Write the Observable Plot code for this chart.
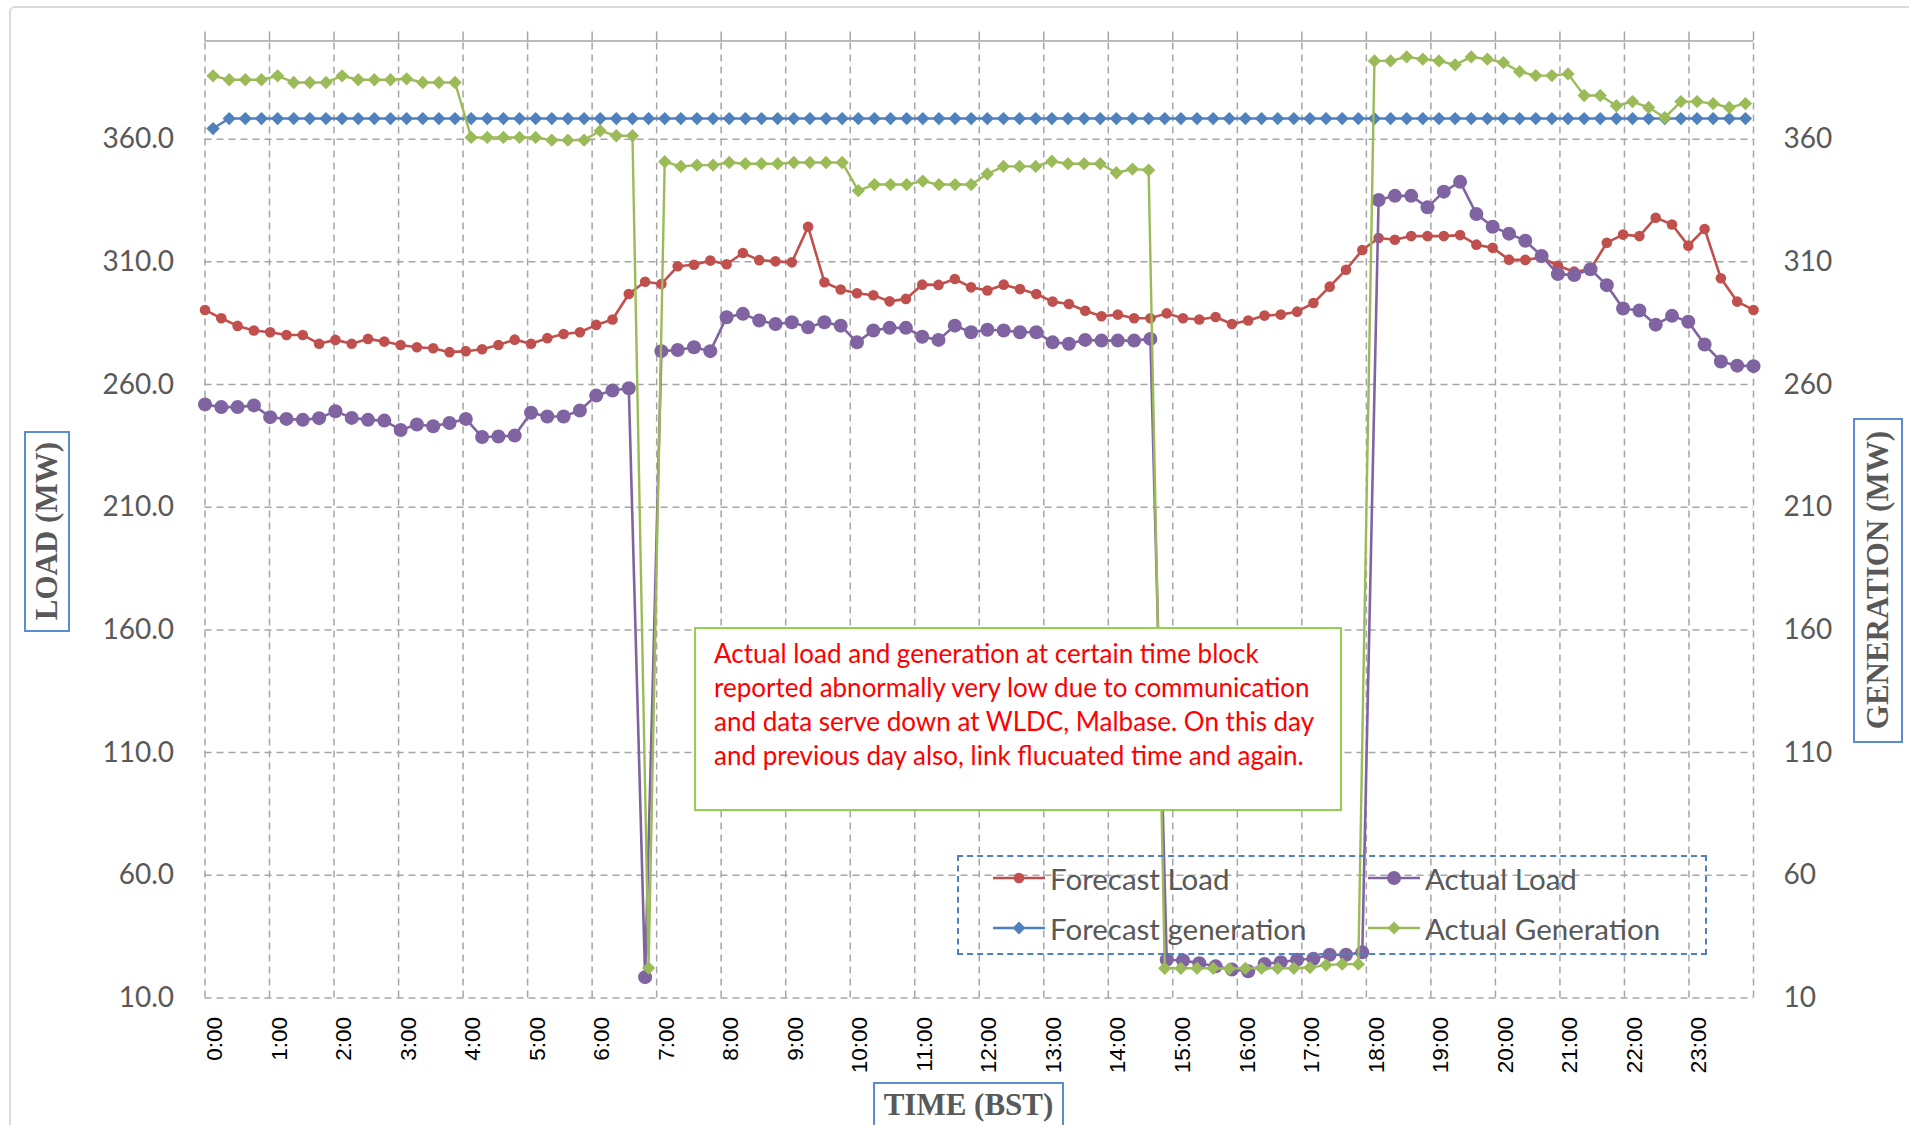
<!DOCTYPE html>
<html>
<head>
<meta charset="utf-8">
<script src="https://cdn.jsdelivr.net/npm/d3@7"></script>
<script src="https://cdn.jsdelivr.net/npm/@observablehq/plot@0.6"></script>
<style>
  html, body { margin: 0; padding: 0; background: #fff; overflow: hidden; }
  #wrap { position: relative; width: 1909px; height: 1125px; overflow: hidden; background: #fff; }
  #chart { position: absolute; left: 0; top: 0; }
  .frame { position: absolute; left: 9px; top: 6px; width: 1950px; height: 1170px; border: 2px solid #d9d9d9; border-radius: 6px; box-sizing: border-box; }
  .axbox { position: absolute; border: 2px solid #5b8bd0; box-sizing: border-box; display: flex; align-items: center; justify-content: center; background: #fff;
           font-family: "Liberation Serif", "Times New Roman", serif; font-weight: bold; font-size: 31px; color: #595959; white-space: nowrap; }
  .vert { writing-mode: vertical-rl; transform: rotate(180deg); }
  .note { position: absolute; left: 694px; top: 627px; width: 648px; height: 184px; box-sizing: border-box; border: 2px solid #92d050; background: #fff;
          padding: 7px 0 0 18px; font-family: Lato, "Open Sans", sans-serif; font-size: 26px; line-height: 34px; color: #ff0000; white-space: nowrap; }
  .legend { position: absolute; left: 957px; top: 855px; width: 750px; height: 100px; box-sizing: border-box; border: 2px dashed #4f81bd; }
  .litem { position: absolute; height: 40px; display: flex; align-items: center; font-family: Lato, "Open Sans", sans-serif; font-size: 29.5px; color: #595959; white-space: nowrap; }
  .litem svg { margin-right: 5px; }
</style>
</head>
<body>
<div id="wrap">
  <div class="frame"></div>
  <div id="chart"></div>
</div>
<script>
// ---- data (15-minute blocks, 96 per series) ----
const hourLabels = ["0:00","1:00","2:00","3:00","4:00","5:00","6:00","7:00","8:00","9:00","10:00","11:00",
                    "12:00","13:00","14:00","15:00","16:00","17:00","18:00","19:00","20:00","21:00","22:00","23:00"];
const yTicks = [10, 60, 110, 160, 210, 260, 310, 360];

const forecastLoad = [
  290.4, 287.0, 283.9, 282.0, 281.3, 280.2, 280.2, 276.6, 278.2, 276.6, 278.6, 277.5,
  276.1, 275.2, 274.8, 273.2, 273.6, 274.4, 276.1, 278.3, 276.6, 278.9, 280.6, 281.3,
  284.3, 286.5, 296.9, 301.9, 301.0, 308.2, 308.8, 310.5, 309.0, 313.6, 310.7, 310.2,
  309.8, 324.3, 301.7, 298.7, 297.2, 296.4, 293.9, 294.9, 300.7, 300.6, 303.0, 299.6,
  298.3, 300.7, 298.9, 296.9, 293.8, 292.8, 290.1, 287.8, 288.5, 287.0, 287.0, 289.0,
  287.0, 286.5, 287.5, 284.7, 286.1, 288.1, 288.5, 289.7, 293.2, 299.9, 306.8, 314.8,
  319.7, 319.0, 320.5, 320.5, 320.5, 320.9, 317.0, 315.7, 310.9, 310.8, 311.8, 308.4,
  306.0, 307.0, 317.8, 321.1, 320.5, 328.0, 325.2, 316.6, 323.4, 303.3, 293.8, 290.4
];
const actualLoad = [
  251.9, 250.8, 250.8, 251.5, 246.7, 246.0, 245.6, 246.3, 249.1, 246.4, 245.6, 245.3,
  241.5, 243.7, 243.0, 244.3, 246.0, 238.6, 238.8, 239.2, 248.5, 247.0, 247.0, 249.4,
  255.5, 257.6, 258.5, 18.5, 273.6, 274.1, 275.2, 273.6, 287.4, 288.8, 286.1, 284.7,
  285.4, 283.3, 285.4, 284.0, 277.2, 282.0, 283.1, 283.1, 279.5, 278.2, 284.0, 281.3,
  282.3, 282.0, 281.3, 281.3, 277.2, 276.6, 278.2, 277.9, 277.9, 277.9, 278.6, 25.6,
  25.3, 24.2, 22.9, 21.6, 20.9, 23.9, 24.6, 25.6, 26.0, 27.6, 27.6, 28.6,
  335.2, 336.9, 336.9, 332.2, 338.6, 342.6, 329.5, 324.3, 321.5, 318.6, 312.4, 305.0,
  304.6, 307.0, 300.5, 291.0, 290.2, 284.4, 288.0, 285.6, 276.3, 269.4, 267.7, 267.5
];
const forecastGen = [
  364.3, 368.4, 368.4, 368.4, 368.4, 368.4, 368.4, 368.4, 368.4, 368.4, 368.4, 368.4,
  368.4, 368.4, 368.4, 368.4, 368.4, 368.4, 368.4, 368.4, 368.4, 368.4, 368.4, 368.4,
  368.4, 368.4, 368.4, 368.4, 368.4, 368.4, 368.4, 368.4, 368.4, 368.4, 368.4, 368.4,
  368.4, 368.4, 368.4, 368.4, 368.4, 368.4, 368.4, 368.4, 368.4, 368.4, 368.4, 368.4,
  368.4, 368.4, 368.4, 368.4, 368.4, 368.4, 368.4, 368.4, 368.4, 368.4, 368.4, 368.4,
  368.4, 368.4, 368.4, 368.4, 368.4, 368.4, 368.4, 368.4, 368.4, 368.4, 368.4, 368.4,
  368.4, 368.4, 368.4, 368.4, 368.4, 368.4, 368.4, 368.4, 368.4, 368.4, 368.4, 368.4,
  368.4, 368.4, 368.4, 368.4, 368.4, 368.4, 368.4, 368.4, 368.4, 368.4, 368.4, 368.4
];
const actualGen = [
  385.8, 384.2, 384.2, 384.2, 385.8, 383.1, 383.1, 383.1, 385.8, 384.2, 384.2, 384.2,
  384.6, 383.1, 383.1, 383.1, 360.7, 360.7, 360.7, 360.7, 360.7, 359.6, 359.6, 359.6,
  363.4, 361.4, 361.4, 22.2, 350.8, 348.9, 349.4, 349.4, 350.5, 350.0, 350.0, 350.0,
  350.5, 350.5, 350.5, 350.5, 339.0, 341.5, 341.5, 341.5, 342.9, 341.5, 341.5, 341.5,
  345.8, 348.9, 348.9, 348.9, 351.0, 350.0, 350.0, 350.0, 346.3, 347.8, 347.4, 22.1,
  22.1, 22.1, 22.1, 21.9, 22.1, 22.1, 22.1, 22.1, 22.4, 23.4, 23.8, 23.8,
  391.9, 391.9, 393.5, 392.6, 391.9, 390.3, 393.5, 392.6, 391.2, 387.5, 385.9, 385.9,
  386.6, 377.8, 377.8, 373.6, 375.3, 372.9, 368.8, 375.3, 375.3, 374.5, 372.9, 374.5
];

const seriesNames = ["Forecast Load", "Actual Load", "Forecast generation", "Actual Generation"];
const seriesColors = ["#c0504d", "#8064a2", "#4f81bd", "#9bbb59"];

// primary (load) series sit on the tick marks, secondary (generation) between them
const nBlocks = forecastLoad.length;
const onTicks = (arr) => arr.map((v, i) => ({pos: i * nBlocks / (nBlocks - 1), v}));
const between = (arr) => arr.map((v, i) => ({pos: i + 0.5, v}));
const fl = onTicks(forecastLoad), al = onTicks(actualLoad);
const fg = between(forecastGen), ag = between(actualGen);
const hourPos = d3.range(0, nBlocks + 1, 4);

const grid = {stroke: "#a6a6a6", strokeOpacity: 1, strokeWidth: 1.5, strokeDasharray: "7,5"};

const chart = Plot.plot({
  width: 1909,
  height: 1125,
  marginLeft: 204.5,
  marginRight: 156,
  marginTop: 40.5,
  marginBottom: 127.5,
  style: {background: "transparent", overflow: "visible"},
  x: {domain: [0, nBlocks], axis: null},
  y: {domain: [10, 400], axis: null},
  marks: [
    Plot.gridY(yTicks, grid),
    Plot.gridX(hourPos, {...grid, y1: 10, y2: 400}),
    Plot.ruleY([400], {stroke: "#a6a6a6", strokeWidth: 1.5}),
    Plot.ruleX(hourPos, {x: d => d, y1: 400, y2: 403.7, stroke: "#a6a6a6", strokeWidth: 1.5}),
    Plot.axisY(yTicks, {anchor: "left", tickSize: 0, tickPadding: 31, tickFormat: d3.format(".1f"), label: null,
      fontSize: 28, fontFamily: "Lato", fill: "#595959"}),
    Plot.axisY(yTicks, {anchor: "right", tickSize: 0, tickPadding: 30, tickFormat: d3.format("d"), label: null,
      fontSize: 28, fontFamily: "Lato", fill: "#595959"}),
    Plot.axisX(hourPos.slice(0, 24), {anchor: "bottom", tickSize: 0, tickPadding: 19, tickRotate: -90, dx: 10,
      tickFormat: d => hourLabels[d / 4], label: null, fontSize: 22.5, fontFamily: "Liberation Sans", fill: "#000",
      textAnchor: "end"}),
    Plot.line(fl, {x: "pos", y: "v", stroke: seriesColors[0], strokeWidth: 2.6}),
    Plot.dot(fl, {x: "pos", y: "v", fill: seriesColors[0], r: 5.3, symbol: "circle"}),
    Plot.line(al, {x: "pos", y: "v", stroke: seriesColors[1], strokeWidth: 2.6}),
    Plot.dot(al, {x: "pos", y: "v", fill: seriesColors[1], r: 7, symbol: "circle"}),
    Plot.line(fg, {x: "pos", y: "v", stroke: seriesColors[2], strokeWidth: 2.4}),
    Plot.dot(fg, {x: "pos", y: "v", fill: seriesColors[2], r: 6, symbol: "diamond2"}),
    Plot.line(ag, {x: "pos", y: "v", stroke: seriesColors[3], strokeWidth: 2.4}),
    Plot.dot(ag, {x: "pos", y: "v", fill: seriesColors[3], r: 6, symbol: "diamond2"})
  ]
});
document.getElementById("chart").appendChild(chart);

// ---- axis titles, note, legend (HTML overlays) ----
const wrap = document.getElementById("wrap");
function addBox(cls, style, html) {
  const d = document.createElement("div");
  d.className = cls;
  Object.assign(d.style, style);
  d.innerHTML = html;
  wrap.appendChild(d);
  return d;
}
addBox("axbox", {left: "24px", top: "431px", width: "46px", height: "201px"}, '<span class="vert">LOAD (MW)</span>');
addBox("axbox", {left: "1853px", top: "418px", width: "50px", height: "325px"}, '<span class="vert">GENERATION (MW)</span>');
addBox("axbox", {left: "873px", top: "1082px", width: "191px", height: "60px", alignItems: "flex-start", paddingTop: "3px"}, 'TIME (BST)');

addBox("note", {}, [
  "Actual load and generation at certain time block",
  "reported abnormally very low due to communication",
  "and data serve down at WLDC, Malbase. On this day",
  "and previous day also, link flucuated time and again."
].join("<br>"));

const legend = addBox("legend", {}, "");
const symbolFor = (i, c) => i < 2
  ? `<circle cx="26" cy="10" r="${i === 0 ? 5.3 : 7}" fill="${c}"/>`
  : `<path d="M26,3.5 L32.5,10 L26,16.5 L19.5,10 Z" fill="${c}"/>`;
const legendPos = [[34, 1], [409, 1], [34, 51], [409, 51]];
seriesNames.forEach((name, i) => {
  const c = seriesColors[i];
  const item = document.createElement("div");
  item.className = "litem";
  item.style.left = legendPos[i][0] + "px";
  item.style.top = legendPos[i][1] + "px";
  item.innerHTML = `<svg width="52" height="20"><line x1="0" y1="10" x2="52" y2="10" stroke="${c}" stroke-width="2.6"/>${symbolFor(i, c)}</svg><span>${name}</span>`;
  legend.appendChild(item);
});
</script>
</body>
</html>
